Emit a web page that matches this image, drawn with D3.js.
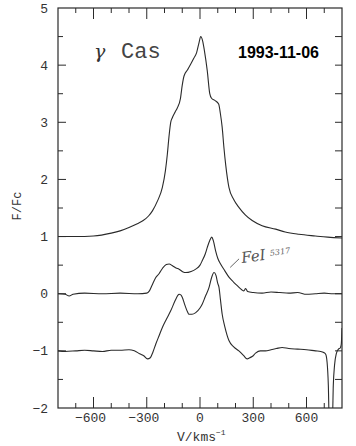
<!DOCTYPE html>
<html><head><meta charset="utf-8">
<script src="https://cdn.jsdelivr.net/npm/d3@7"></script>
<style>body{margin:0;background:#fff}svg{display:block}</style>
</head><body>
<script>
// ---- data ----
const xTicksMajor = [-600, -300, 0, 300, 600];
const yTicksMajor = [-2, -1, 0, 1, 2, 3, 4, 5];
const titleGreek = "γ";
const titleStar = "Cas";
const dateLabel = "1993-11-06";
const yLabel = "F/Fc";
const xLabel = "V/kms";
const annotation = ["FeI", "5317"];

const topV = [-800,-700,-600,-500,-450,-400,-350,-320,-290,-268,-240,-212,-195,-184,-175,-165,-156,-140,-128,-110,-100,-90,-70,-52,-35,-19,-5,4,15,25,41,55,65,85,105,115,125,135,145,163,190,219,255,294,350,426,480,557,650,720,800];
const topF = [1.00,1.00,1.01,1.06,1.10,1.16,1.23,1.28,1.36,1.45,1.62,1.86,2.15,2.44,2.74,3.00,3.08,3.18,3.25,3.42,3.65,3.81,3.92,4.02,4.12,4.22,4.40,4.50,4.42,4.25,3.90,3.50,3.42,3.38,3.32,3.15,2.91,2.55,2.25,1.86,1.65,1.51,1.38,1.28,1.19,1.13,1.08,1.04,1.01,0.99,0.975];

const midV = [-800,-760,-737,-715,-650,-550,-450,-350,-300,-285,-270,-250,-231,-210,-190,-174,-155,-135,-118,-95,-80,-50,-24,0,13,30,41,55,66,75,88,100,116,140,163,190,210,235,247,257,268,300,350,400,450,500,550,600,650,700,750,800];
const midF = [0.00,-0.01,-0.04,-0.01,0.01,0.00,0.01,0.00,0.01,0.05,0.15,0.28,0.35,0.45,0.51,0.52,0.49,0.45,0.43,0.38,0.37,0.39,0.43,0.50,0.58,0.70,0.81,0.93,0.99,0.93,0.75,0.62,0.52,0.40,0.29,0.20,0.14,0.07,0.05,0.09,0.04,0.02,0.01,0.03,0.02,0.01,0.02,-0.01,0.00,0.01,0.00,0.00];

const botV = [-800,-760,-700,-650,-600,-550,-500,-450,-400,-370,-340,-315,-296,-280,-265,-249,-230,-212,-190,-165,-140,-125,-118,-108,-100,-85,-70,-62,-45,-24,0,13,30,51,65,79,90,100,107,115,125,140,163,190,219,245,266,280,294,313,340,369,400,430,463,500,550,600,651,680,697,708,716,723,728,746,751,758,768,780,790,796,800];
const botF = [-1.00,-1.01,-1.00,-0.99,-1.00,-1.01,-0.99,-0.99,-0.98,-1.00,-1.05,-1.09,-1.14,-1.12,-1.02,-0.88,-0.73,-0.59,-0.45,-0.30,-0.12,-0.03,-0.01,-0.02,-0.06,-0.20,-0.32,-0.36,-0.36,-0.33,-0.25,-0.18,-0.05,0.11,0.28,0.37,0.32,0.18,0.11,-0.10,-0.36,-0.58,-0.82,-0.93,-1.00,-1.08,-1.14,-1.12,-1.10,-1.04,-1.00,-1.00,-0.98,-0.96,-0.94,-0.96,-0.97,-0.98,-1.00,-1.01,-1.03,-1.06,-1.20,-1.60,-2.20,-2.20,-1.60,-1.25,-1.05,-0.97,-0.95,-0.88,-0.6];

// ---- layout ----
const W = 356, H = 446;
const m = {l: 58, r: 14, t: 8, b: 38};
const svg = d3.select("body").append("svg").attr("width", W).attr("height", H);
const x = d3.scaleLinear().domain([-800, 800]).range([m.l, W - m.r]);
const y = d3.scaleLinear().domain([-2, 5]).range([H - m.b, m.t]);
const ink = "#2a2a2a";

svg.append("defs").append("clipPath").attr("id", "clip")
  .append("rect").attr("x", m.l).attr("y", m.t)
  .attr("width", x.range()[1] - m.l).attr("height", y(-2) - m.t);

// frame
svg.append("rect").attr("x", m.l).attr("y", m.t)
  .attr("width", x.range()[1] - m.l).attr("height", y(-2) - m.t)
  .attr("fill", "none").attr("stroke", ink).attr("stroke-width", 1.2);

// x ticks (bottom & top)
d3.range(-700, 800, 100).forEach(v => {
  const major = xTicksMajor.includes(v);
  const L = major ? 11 : 5;
  svg.append("line").attr("x1", x(v)).attr("x2", x(v)).attr("y1", y(-2)).attr("y2", y(-2) - L)
    .attr("stroke", ink).attr("stroke-width", 1);
  svg.append("line").attr("x1", x(v)).attr("x2", x(v)).attr("y1", y(5)).attr("y2", y(5) + L)
    .attr("stroke", ink).attr("stroke-width", 1);
});
// y ticks (left & right)
d3.range(-1.5, 5, 0.5).forEach(v => {
  const major = Number.isInteger(v);
  const L = major ? 8 : 5;
  svg.append("line").attr("x1", m.l).attr("x2", m.l + L).attr("y1", y(v)).attr("y2", y(v))
    .attr("stroke", ink).attr("stroke-width", 1);
  svg.append("line").attr("x1", x(800)).attr("x2", x(800) - 7).attr("y1", y(v)).attr("y2", y(v))
    .attr("stroke", ink).attr("stroke-width", 1);
});

const fmt = v => (v < 0 ? "\u2212" : "") + Math.abs(v);
const tickFont = "'Liberation Mono', 'DejaVu Sans Mono', monospace";
svg.append("g").selectAll("text").data(xTicksMajor).join("text")
  .attr("x", d => x(d) - (d < 0 ? 3 : 0)).attr("y", 422).attr("text-anchor", "middle")
  .attr("font-family", tickFont).attr("font-size", 13).attr("fill", "#333").text(fmt);
svg.append("g").selectAll("text").data(yTicksMajor).join("text")
  .attr("x", 48).attr("y", d => y(d) + 4.5).attr("text-anchor", "end")
  .attr("font-family", tickFont).attr("font-size", 13).attr("fill", "#333").text(fmt);

// axis titles
const xl = svg.append("text").attr("x", 177).attr("y", 441)
  .attr("font-family", tickFont).attr("font-size", 13).attr("fill", "#333");
xl.append("tspan").text(xLabel);
xl.append("tspan").attr("dy", -6).attr("font-size", 8).text("\u22121");
svg.append("text").attr("transform", "translate(21,206) rotate(-90)")
  .attr("text-anchor", "middle").attr("font-family", tickFont).attr("font-size", 12)
  .attr("fill", "#333").text(yLabel);

// titles
svg.append("text").attr("x", 94).attr("y", 58)
  .attr("font-family", "'DejaVu Serif', 'Liberation Serif', serif").attr("font-style", "italic")
  .attr("font-size", 19).attr("fill", "#333").text(titleGreek);
svg.append("text").attr("x", 121).attr("y", 58)
  .attr("font-family", tickFont).attr("font-size", 22).attr("fill", "#444").text(titleStar);
svg.append("text").attr("x", 238).attr("y", 58)
  .attr("font-family", "'Liberation Sans', Arial, sans-serif").attr("font-weight", "bold")
  .attr("font-size", 16).attr("fill", "#000").text(dateLabel);

// spectra
const line = d3.line().x(d => x(d[0])).y(d => y(d[1])).curve(d3.curveMonotoneX);
const g = svg.append("g").attr("clip-path", "url(#clip)");
[[topV, topF], [midV, midF], [botV, botF]].forEach(([vs, fs]) => {
  g.append("path").datum(d3.zip(vs, fs)).attr("d", line)
    .attr("fill", "none").attr("stroke", ink).attr("stroke-width", 1.1);
});

// handwritten annotation
svg.append("line").attr("x1", x(170)).attr("y1", y(0.46)).attr("x2", x(220)).attr("y2", y(0.61))
  .attr("stroke", "#555").attr("stroke-width", 0.9);
const ann = svg.append("g").attr("transform", "translate(242,263) rotate(-8)");
ann.append("text").attr("x", 0).attr("y", 0).attr("font-family", "'DejaVu Serif', serif")
  .attr("font-style", "italic").attr("font-size", 15).attr("fill", "#555").text(annotation[0]);
ann.append("text").attr("x", 29).attr("y", -3).attr("font-family", "'DejaVu Serif', serif")
  .attr("font-style", "italic").attr("font-size", 8).attr("fill", "#666").text(annotation[1]);
</script>
</body></html>
